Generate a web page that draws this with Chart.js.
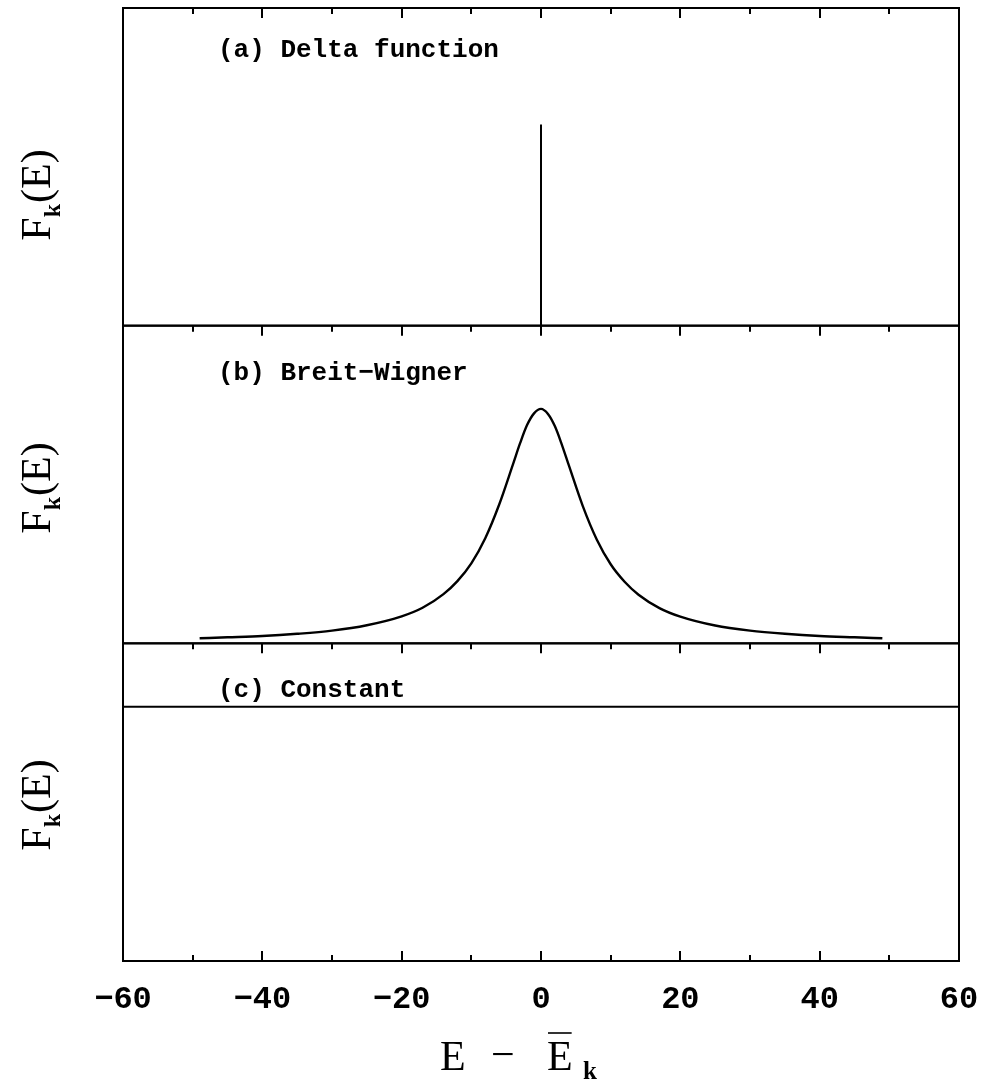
<!DOCTYPE html>
<html>
<head>
<meta charset="utf-8">
<script src="https://cdn.jsdelivr.net/npm/chart.js@4/dist/chart.umd.min.js"></script>
<style>
  html, body { margin: 0; padding: 0; background: #fff; }
  #wrap { width: 982px; height: 1084px; position: relative; }
</style>
</head>
<body>
<div id="wrap"><canvas id="c"></canvas></div>
<script>
// ---- data ----
const xTickValues = [-60, -40, -20, 0, 20, 40, 60];
const xTickLabels = ['\u221260', '\u221240', '\u221220', '0', '20', '40', '60'];
const panelLabels = ['(a) Delta function', '(b) Breit\u2212Wigner', '(c) Constant'];

// (a) delta function: a single spike at E - Ek = 0
const deltaE = [0, 0];
const deltaF = [0, 0.633];

// (b) Breit-Wigner curve
const bwE = [-49, -45, -40, -35, -30, -25, -20, -17, -14, -12, -10, -8, -6, -4, -3, -2, -1, 0, 1, 2, 3, 4, 6, 8, 10, 12, 14, 17, 20, 25, 30, 35, 40, 45, 49];
const bwF = [0.016, 0.019, 0.023, 0.030, 0.040, 0.057, 0.085, 0.112, 0.155, 0.196, 0.252, 0.331, 0.437, 0.565, 0.630, 0.687, 0.724, 0.738, 0.722, 0.683, 0.625, 0.560, 0.432, 0.327, 0.249, 0.194, 0.153, 0.111, 0.084, 0.056, 0.040, 0.030, 0.023, 0.019, 0.016];

// (c) constant
const constE = [-60, 60];
const constF = [0.80, 0.80];

const toXY = (xs, ys) => xs.map((x, i) => ({ x: x, y: ys[i] }));

const framePlugin = {
  id: 'frame',
  afterDatasetsDraw(chart) {
    const ctx = chart.ctx;
    const xs = chart.scales.x;
    const L = chart.chartArea.left, R = chart.chartArea.right;
    const ids = ['ya', 'yb', 'yc'];
    const tickVals = [];
    for (let v = xs.min + 10; v < xs.max; v += 10) tickVals.push(v);
    ctx.save();
    ctx.strokeStyle = '#000';
    ctx.lineWidth = 2;
    ids.forEach((id) => {
      const s = chart.scales[id];
      ctx.strokeRect(L, s.top, R - L, s.bottom - s.top);
      ctx.beginPath();
      tickVals.forEach(v => {
        const px = Math.round(xs.getPixelForValue(v));
        const len = (v % 20 === 0) ? 10 : 6;
        ctx.moveTo(px, s.top);
        ctx.lineTo(px, s.top + len);
      });
      ctx.stroke();
    });
    // bottom ticks of the lowest panel
    const sb = chart.scales.yc;
    ctx.beginPath();
    tickVals.forEach(v => {
      const px = Math.round(xs.getPixelForValue(v));
      const len = (v % 20 === 0) ? 10 : 6;
      ctx.moveTo(px, sb.bottom);
      ctx.lineTo(px, sb.bottom - len);
    });
    ctx.stroke();

    // panel labels
    ctx.fillStyle = '#000';
    ctx.font = 'bold 26px "Liberation Mono"';
    ctx.textBaseline = 'alphabetic';
    ctx.textAlign = 'left';
    const labOff = [49, 54, 54];
    ids.forEach((id, i) => {
      const s = chart.scales[id];
      ctx.fillText(panelLabels[i], 218, s.top + labOff[i]);
    });

    // y-axis titles F_k(E)
    const yCenters = [195, 488, 805];
    ids.forEach((id, i) => {
      ctx.save();
      ctx.translate(50, yCenters[i]);
      ctx.rotate(-Math.PI / 2);
      const fMain = '42px "Liberation Serif"';
      const fSub = 'bold 24px "Liberation Serif"';
      ctx.font = fMain;
      const wF = ctx.measureText('F').width;
      const wE = ctx.measureText('(E)').width;
      ctx.font = fSub;
      const wk = ctx.measureText('k').width;
      const total = wF + wk + 1 + wE;
      let x0 = -total / 2;
      ctx.font = fMain;
      ctx.fillText('F', x0, 0);
      ctx.font = fSub;
      ctx.fillText('k', x0 + wF, 10);
      ctx.font = fMain;
      ctx.fillText('(E)', x0 + wF + wk + 1, 0);
      ctx.restore();
    });

    // x-axis title: E − Ē_k
    ctx.font = '42px "Liberation Serif"';
    ctx.textAlign = 'left';
    ctx.fillText('E', 440, 1070);
    ctx.fillText('\u2212', 491, 1068);
    ctx.fillText('E', 547, 1070);
    const wE2 = ctx.measureText('E').width;
    ctx.lineWidth = 1.6;
    ctx.beginPath();
    ctx.moveTo(548, 1033);
    ctx.lineTo(547 + wE2 - 1, 1033);
    ctx.stroke();
    ctx.font = 'bold 25px "Liberation Serif"';
    ctx.fillText('k', 583, 1079);
    ctx.restore();
  }
};

const yScale = () => ({
  type: 'linear',
  position: 'left',
  stack: 'panels',
  stackWeight: 1,
  min: 0,
  max: 1,
  display: true,
  grid: { display: false },
  border: { display: false },
  ticks: { display: false },
  title: { display: false }
});

new Chart(document.getElementById('c'), {
  type: 'line',
  data: {
    datasets: [
      { label: 'a', data: toXY(deltaE, deltaF), yAxisID: 'ya', borderColor: '#000', borderWidth: 2, pointRadius: 0, fill: false },
      { label: 'b', data: toXY(bwE, bwF), yAxisID: 'yb', borderColor: '#000', borderWidth: 2.4, pointRadius: 0, fill: false, cubicInterpolationMode: 'monotone' },
      { label: 'c', data: toXY(constE, constF), yAxisID: 'yc', borderColor: '#000', borderWidth: 2, pointRadius: 0, fill: false }
    ]
  },
  options: {
    responsive: true,
    maintainAspectRatio: false,
    animation: false,
    layout: { padding: { left: 115, right: 23, top: 8, bottom: 0 } },
    plugins: { legend: { display: false }, tooltip: { enabled: false }, title: { display: false } },
    scales: {
      x: {
        type: 'linear',
        position: 'bottom',
        min: -60,
        max: 60,
        grid: { display: false },
        border: { display: false },
        afterFit: (s) => { s.height = 123; s.paddingLeft = 0; s.paddingRight = 0; },
        afterBuildTicks: (s) => { s.ticks = xTickValues.map(v => ({ value: v })); },
        ticks: {
          color: '#000',
          padding: 12,
          maxRotation: 0,
          autoSkip: false,
          font: { family: 'Liberation Mono', weight: 'bold', size: 32 },
          callback: (v) => { const i = xTickValues.indexOf(v); return i >= 0 ? xTickLabels[i] : ''; }
        }
      },
      yc: yScale(),
      yb: yScale(),
      ya: yScale()
    }
  },
  plugins: [framePlugin]
});
</script>
</body>
</html>
